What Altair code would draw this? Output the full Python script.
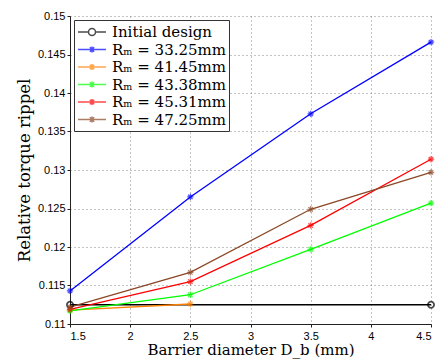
import altair as alt
import pandas as pd

series_names = ["Initial design", "Rₘ = 33.25mm", "Rₘ = 41.45mm",
                "Rₘ = 43.38mm", "Rₘ = 45.31mm", "Rₘ = 47.25mm"]
series_colors = ["#000000", "#0000ff", "#ff8000", "#00ff00", "#ff0000", "#8b4726"]

initial_x = [1.5, 4.5]
initial_y = [0.1125, 0.1125]
diam_x = [1.5, 2.5, 3.5, 4.5]
rm_3325 = [0.1143, 0.1265, 0.1373, 0.1466]
rm_4145_x = [1.5, 2.5]
rm_4145 = [0.1118, 0.1126]
rm_4338 = [0.1117, 0.1138, 0.1197, 0.1257]
rm_4531 = [0.1119, 0.1155, 0.1228, 0.1314]
rm_4725 = [0.1122, 0.1167, 0.1249, 0.1297]

x_ticks = [1.5, 2, 2.5, 3, 3.5, 4, 4.5]
y_ticks = [0.11, 0.115, 0.12, 0.125, 0.13, 0.135, 0.14, 0.145, 0.15]

rows = []
for name, xs, ys in [
    (series_names[0], initial_x, initial_y),
    (series_names[1], diam_x, rm_3325),
    (series_names[2], rm_4145_x, rm_4145),
    (series_names[3], diam_x, rm_4338),
    (series_names[4], diam_x, rm_4531),
    (series_names[5], diam_x, rm_4725),
]:
    for xv, yv in zip(xs, ys):
        rows.append({"series": name, "x": xv, "y": yv})
df = pd.DataFrame(rows)

STAR = "M-1,0L1,0M0,-1L0,1M-0.7,-0.7L0.7,0.7M-0.7,0.7L0.7,-0.7"
# legend symbols: line + marker, drawn right of the symbol centre
LEG_CIRCLE = ("M-1,0L0.31,0M1.19,0L2.5,0"
              "M1.19,0A0.44,0.44 0 1,1 0.31,0A0.44,0.44 0 1,1 1.19,0")
LEG_STAR = ("M-1,0L2.5,0M0.75,-0.38L0.75,0.38"
            "M0.48,-0.27L1.02,0.27M0.48,0.27L1.02,-0.27")
leg_shapes = [LEG_CIRCLE] + [LEG_STAR] * 5

color_scale = alt.Scale(domain=series_names, range=series_colors)

x_enc = alt.X("x:Q", scale=alt.Scale(domain=[1.5, 4.5], nice=False, zero=False),
              axis=alt.Axis(values=x_ticks, format="~g", labelOverlap=False,
                            title="Barrier diameter D_b (mm)"))
y_enc = alt.Y("y:Q", scale=alt.Scale(domain=[0.11, 0.15], nice=False, zero=False),
              axis=alt.Axis(values=y_ticks, format="~g", labelOverlap=False,
                            title="Relative torque rippel"))

base = alt.Chart(df)

leg = alt.Legend(title=None, orient="top-left", offset=4, symbolSize=256,
                 padding=3, rowPadding=0.5, labelOffset=17)

legend_carrier = base.mark_point(filled=False, size=0, strokeWidth=1.2).encode(
    x=x_enc, y=y_enc,
    color=alt.Color("series:N", scale=color_scale, legend=leg),
    shape=alt.Shape("series:N", scale=alt.Scale(domain=series_names, range=leg_shapes),
                    legend=leg),
)

lines = base.mark_line(strokeWidth=1.3).encode(
    x=x_enc, y=y_enc,
    color=alt.Color("series:N", scale=color_scale, legend=None),
)

circles = base.transform_filter(alt.datum.series == series_names[0]).mark_point(
    shape="circle", filled=False, size=38, strokeWidth=1.8
).encode(x=x_enc, y=y_enc,
         color=alt.Color("series:N", scale=color_scale, legend=None))

stars = base.transform_filter(alt.datum.series != series_names[0]).mark_point(
    shape=STAR, filled=False, size=40, strokeWidth=1.2
).encode(x=x_enc, y=y_enc,
         color=alt.Color("series:N", scale=color_scale, legend=None))

chart = alt.layer(legend_carrier, lines, circles, stars).properties(
    width=361, height=308,
    padding={"left": 70, "top": 16, "right": 9, "bottom": 36},
    autosize="none",
).configure_view(stroke=None).configure_axis(
    labelFont="Liberation Sans", labelFontSize=11, labelColor="#000",
    titleFont="DejaVu Serif", titleFontWeight="normal", titleColor="#000",
    domainColor="#222", tickColor="#222", tickSize=3,
    gridColor="#888", gridDash=[1, 3], gridOpacity=1,
).configure_axisY(titleFontSize=16.5, titlePadding=5, labelPadding=2).configure_axisX(
    titleFontSize=15, titlePadding=1, labelPadding=3
).configure_legend(
    labelFont="DejaVu Serif", labelFontSize=15, labelColor="#000",
    strokeColor="#333", fillColor="white", cornerRadius=0, labelLimit=300,
)

chart.save("out.html", embed_options={"renderer": "svg", "actions": False})
